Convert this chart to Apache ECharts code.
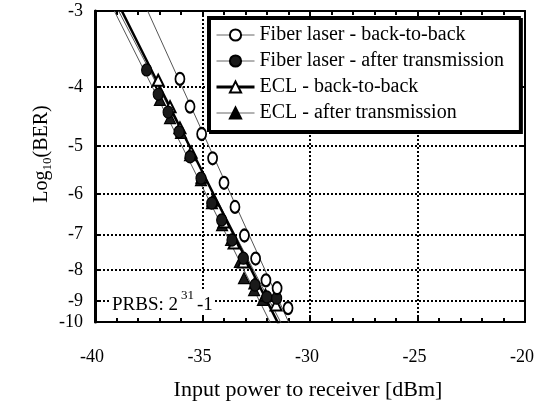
<!DOCTYPE html>
<html>
<head>
<meta charset="utf-8">
<script src="https://cdn.jsdelivr.net/npm/echarts@6/dist/echarts.min.js"></script>
<style>
html,body{margin:0;padding:0;background:#fff;}
#c{width:539px;height:407px;}
</style>
</head>
<body>
<div id="c"></div>
<script>
// ---- data (x: input power dBm, y: log10(BER)) ----
const seriesNames = ['Fiber laser - back-to-back', 'Fiber laser - after transmission', 'ECL - back-to-back', 'ECL - after transmission'];

const flB2bX = [-36.05, -35.58, -35.04, -34.53, -34.0, -33.49, -33.05, -32.53, -32.05, -31.53, -31.02];
const flB2bY = [-3.88, -4.31, -4.78, -5.24, -5.75, -6.30, -7.02, -7.66, -8.32, -8.57, -9.24];

const flAftX = [-37.60, -37.06, -36.60, -36.09, -35.58, -35.07, -34.57, -34.11, -33.63, -33.10, -32.56, -32.01, -31.55];
const flAftY = [-3.75, -4.11, -4.40, -4.74, -5.21, -5.65, -6.21, -6.62, -7.14, -7.65, -8.47, -8.86, -8.90];

const eclB2bX = [-37.06, -36.51, -36.05, -35.53, -35.02, -34.51, -34.0, -33.53, -33.10, -32.56, -32.07, -31.58];
const eclB2bY = [-3.90, -4.31, -4.67, -5.12, -5.63, -6.14, -6.67, -7.22, -7.76, -8.40, -8.80, -9.13];

const eclAftX = [-36.98, -36.51, -36.0, -35.58, -35.07, -34.56, -34.09, -33.67, -33.26, -33.07, -32.60, -32.19];
const eclAftY = [-4.20, -4.50, -4.76, -5.18, -5.69, -6.21, -6.75, -7.14, -7.76, -8.25, -8.63, -8.96];

// linear fits (end points at log10(BER) = -3 and -10)
const fitY = [-3, -10];
const fitFlB2bX = [-37.55, -30.85];
const fitFlAftX = [-38.9, -31.2];
const fitEclB2bX = [-38.75, -31.35];
const fitEclAftX = [-39.1, -31.7];

// axis ticks
const xTicks = [-40, -35, -30, -25, -20];
const yTickLabels = [-3, -4, -5, -6, -7, -8, -9, -10];
const yAxisBottom = -9.74;   // lower frame edge of the original plot (labelled -10 there)

// ---- build ----
const FONT = "'Liberation Serif', 'Times New Roman', serif";
const pts = (xs, ys) => xs.map((x, i) => [x, -ys[i]]);   // y axis: -log10(BER) on a log scale
const yTop = -yTickLabels[0];
const yBot = -yAxisBottom;
const yT = yTickLabels.map(v => Math.log10(Math.min(-v, yBot)));
const yMinT = Math.log10(yTop);
const yMaxT = Math.log10(yBot);

const dotted = {color: '#000', width: 2, type: [2, 2]};

function pointSeries(name, xs, ys, symbol, size, z) {
  return {
    name, type: 'line', xAxisIndex: 0, yAxisIndex: 0,
    data: pts(xs, ys), symbol, symbolSize: size, showSymbol: true,
    lineStyle: {opacity: 0, width: 1, color: '#000'},
    itemStyle: {color: symbol.indexOf('empty') === 0 ? '#000' : '#1a1a1a', borderColor: '#000', borderWidth: 1.2},
    z, silent: true, animation: false
  };
}
function fitSeries(name, xs, width, color) {
  return {
    name, type: 'line', xAxisIndex: 0, yAxisIndex: 0,
    data: pts(xs, fitY), symbol: 'none', clip: true,
    lineStyle: {width, color}, z: 2, silent: true, animation: false
  };
}

const option = {
  animation: false,
  backgroundColor: '#fff',
  grid: {left: 95, right: 14, top: 11, bottom: 85, show: false},
  xAxis: [
    {
      type: 'value', position: 'bottom', min: xTicks[0], max: xTicks[xTicks.length - 1], interval: 5,
      axisLine: {show: true, onZero: false, lineStyle: {color: '#000', width: 2}},
      axisTick: {show: true, inside: true, length: 6, lineStyle: {color: '#000', width: 2}},
      minorTick: {show: true, splitNumber: 5, length: 4, lineStyle: {color: '#000', width: 2}},
      axisLabel: {color: '#000', fontFamily: FONT, fontSize: 18, margin: 26, padding: [0, 6, 0, 0]},
      splitLine: {show: true, lineStyle: dotted}
    },
    {
      type: 'value', position: 'top', min: xTicks[0], max: xTicks[xTicks.length - 1], interval: 5,
      axisLine: {show: true, onZero: false, lineStyle: {color: '#000', width: 2}},
      axisTick: {show: true, inside: true, length: 6, lineStyle: {color: '#000', width: 2}},
      minorTick: {show: true, splitNumber: 5, length: 4, lineStyle: {color: '#000', width: 2}},
      axisLabel: {show: false}, splitLine: {show: false}
    }
  ],
  yAxis: [
    { // data axis: -log10(BER) on a log scale
      type: 'log', logBase: 10, min: yTop, max: yBot, inverse: true,
      show: false, splitLine: {show: false}
    },
    { // labelled axis, same pixel range, shows integer log10(BER) ticks
      type: 'value', position: 'left', min: yMinT, max: yMaxT, inverse: true,
      axisLine: {show: true, onZero: false, lineStyle: {color: '#000', width: 3}},
      axisTick: {show: true, inside: true, length: 6, customValues: yT, lineStyle: {color: '#000', width: 2}},
      axisLabel: {customValues: yT, color: '#000', fontFamily: FONT, fontSize: 18, margin: 12,
        formatter: v => String(-Math.round(Math.pow(10, v)))},
      splitLine: {show: true, lineStyle: dotted}
    },
    {
      type: 'value', position: 'right', min: yMinT, max: yMaxT, inverse: true,
      axisLine: {show: true, onZero: false, lineStyle: {color: '#000', width: 2}},
      axisTick: {show: true, inside: true, length: 6, customValues: yT, lineStyle: {color: '#000', width: 2}},
      axisLabel: {show: false}, splitLine: {show: false}
    }
  ],
  legend: {
    orient: 'vertical', left: 208, top: 17, padding: [8, 16, 8, 7],
    itemWidth: 38, itemHeight: 14, itemGap: 6,
    backgroundColor: '#fff', borderColor: '#000', borderWidth: 2,
    shadowColor: '#000', shadowOffsetX: 2, shadowOffsetY: 2, shadowBlur: 0,
    selectedMode: false,
    textStyle: {color: '#000', fontFamily: FONT, fontSize: 20},
    data: [
      {name: seriesNames[0], itemStyle: {opacity: 1, color: '#000'}, lineStyle: {opacity: 1, width: 1, color: '#666'}},
      {name: seriesNames[1], itemStyle: {opacity: 1, color: '#1a1a1a'}, lineStyle: {opacity: 1, width: 1, color: '#666'}},
      {name: seriesNames[2], itemStyle: {opacity: 1, color: '#000'}, lineStyle: {opacity: 1, width: 3, color: '#000'}},
      {name: seriesNames[3], itemStyle: {opacity: 1, color: '#000'}, lineStyle: {opacity: 1, width: 1, color: '#666'}}
    ]
  },
  series: [
    pointSeries(seriesNames[0], flB2bX, flB2bY, 'emptyCircle', [9, 12], 6),
    pointSeries(seriesNames[1], flAftX, flAftY, 'circle', [10, 12], 5),
    pointSeries(seriesNames[2], eclB2bX, eclB2bY, 'emptyTriangle', 11, 4),
    pointSeries(seriesNames[3], eclAftX, eclAftY, 'triangle', 11, 3),
    fitSeries(seriesNames[0], fitFlB2bX, 1, '#555'),
    fitSeries(seriesNames[1], fitFlAftX, 1, '#555'),
    fitSeries(seriesNames[2], fitEclB2bX, 2.5, '#000'),
    fitSeries(seriesNames[3], fitEclAftX, 1, '#555')
  ],
  graphic: [
    {
      type: 'text', x: 43, y: 154, rotation: Math.PI / 2, z: 100,
      style: {
        text: '{a|Log}{s|10}{a|(BER)}', align: 'center', verticalAlign: 'middle',
        rich: {
          a: {fontFamily: FONT, fontSize: 20, fill: '#000', verticalAlign: 'top', lineHeight: 22},
          s: {fontFamily: FONT, fontSize: 13, fill: '#000', verticalAlign: 'top', padding: [10, 0, 0, 0]}
        }
      }
    },
    {
      type: 'text', x: 308, y: 390, z: 100,
      style: {text: 'Input power to receiver [dBm]', align: 'center', verticalAlign: 'middle',
        fontFamily: FONT, fontSize: 22, fill: '#000'}
    },
    {
      type: 'text', x: 110, y: 302, z: 100,
      style: {
        text: '{a|PRBS: 2}{s|31}{a|-1}', align: 'left', verticalAlign: 'middle',
        backgroundColor: '#fff', padding: [0, 2, 0, 2],
        rich: {
          a: {fontFamily: FONT, fontSize: 19, fill: '#000', verticalAlign: 'bottom', lineHeight: 25},
          s: {fontFamily: FONT, fontSize: 13, fill: '#000', verticalAlign: 'top', padding: [0, 3, 0, 3]}
        }
      }
    }
  ]
};

const chart = echarts.init(document.getElementById('c'), null, {renderer: 'canvas'});
chart.setOption(option);
</script>
</body>
</html>
